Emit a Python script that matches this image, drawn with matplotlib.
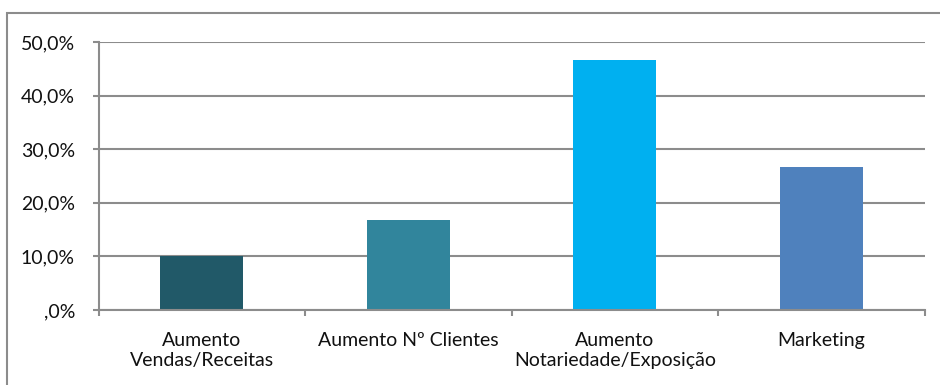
import matplotlib
matplotlib.use("Agg")
import matplotlib.pyplot as plt
from matplotlib.patches import Rectangle
from matplotlib.ticker import FuncFormatter

categories = ["Aumento\nVendas/Receitas", "Aumento Nº Clientes",
              "Aumento\nNotariedade/Exposição", "Marketing"]
values = [10.0, 16.7, 46.7, 26.7]
colors = ["#215968", "#31859C", "#00B0F0", "#4F81BD"]
y_ticks = [0, 10, 20, 30, 40, 50]

plt.rcParams["font.family"] = ["Lato", "DejaVu Sans"]

W, H = 940, 385
fig = plt.figure(figsize=(W / 100, H / 100), dpi=100)

# outer chart frame (runs off the right and bottom edges)
fig.patches.append(Rectangle((7.5 / W, -0.1), 1.2, 1 - 12.5 / H + 0.1,
                             transform=fig.transFigure, fill=False,
                             edgecolor="#8c8c8c", linewidth=1.5, zorder=0))

left, right = 98.5 / W, 924.5 / W
bottom, top = 1 - 310 / H, 1 - 42 / H
ax = fig.add_axes([left, bottom, right - left, top - bottom])

x = range(len(categories))
ax.bar(x, values, width=0.40, color=colors, zorder=3)

ax.set_xlim(-0.5, len(categories) - 0.5)
ax.set_ylim(0, 50)
ax.set_yticks(y_ticks)
ax.yaxis.set_major_formatter(FuncFormatter(
    lambda v, p: ",0%" if v == 0 else f"{v:.1f}%".replace(".", ",")))
ax.grid(axis="y", color="#8c8c8c", linewidth=1.5, zorder=1)

ax.set_xticks([i + 0.5 for i in range(-1, len(categories))], minor=True)
ax.set_xticks(list(x))
ax.set_xticklabels(categories, fontsize=14, color="#111111", linespacing=1.2)
ax.tick_params(axis="x", which="major", length=0, pad=16)
ax.tick_params(axis="x", which="minor", length=4.5, width=1.5, color="#8c8c8c")
ax.tick_params(axis="y", length=4.5, width=1.5, color="#8c8c8c",
               labelsize=14, labelcolor="#111111", pad=12.5)

for s in ["top", "right"]:
    ax.spines[s].set_visible(False)
for s in ["left", "bottom"]:
    ax.spines[s].set_color("#8c8c8c")
    ax.spines[s].set_linewidth(1.5)
    ax.spines[s].set_zorder(4)

fig.savefig("out.png", dpi=100)
